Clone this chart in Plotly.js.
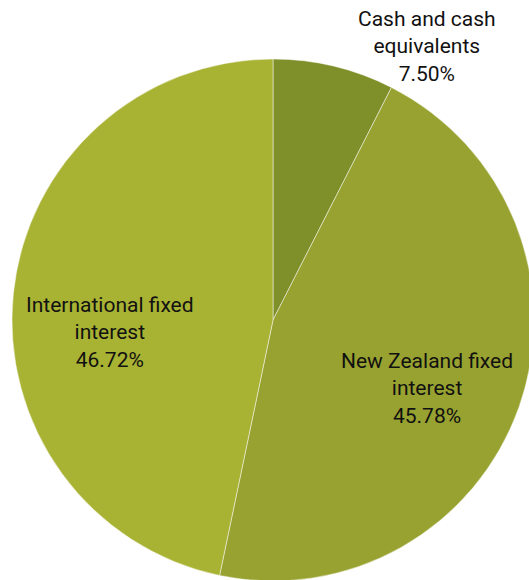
<!DOCTYPE html>
<html>
<head>
<meta charset="utf-8">
<script src="https://cdn.plot.ly/plotly-3.0.1.min.js"></script>
<style>
html,body{margin:0;padding:0;overflow:hidden;background:#fff;width:529px;height:580px;}
#chart{width:546px;height:581px;}
</style>
</head>
<body>
<div id="chart"></div>
<script>
const categories = ["Cash and cash<br>equivalents", "New Zealand fixed<br>interest", "International fixed<br>interest"];
const values = [7.50, 45.78, 46.72];
const percentLabels = ["7.50%", "45.78%", "46.72%"];
const colors = ["#7f8f2a", "#98a230", "#a8b233"];

// label anchor points (paper coordinates of the pie's plot area)
const labelX = [0.795, 0.795, 0.188];
const labelY = [1.023, 0.368, 0.477];

const trace = {
  type: "pie",
  labels: categories,
  values: values,
  sort: false,
  direction: "clockwise",
  rotation: 0,
  marker: {colors: colors, line: {color: "rgba(255,255,255,0.6)", width: 0.8}},
  textinfo: "none",
  automargin: false,
  hoverinfo: "none",
  showlegend: false
};

const annotations = categories.map((c, i) => ({
  xref: "paper", yref: "paper",
  x: labelX[i], y: labelY[i],
  xanchor: "center", yanchor: "middle",
  text: c + "<br>" + percentLabels[i],
  showarrow: false,
  align: "center",
  font: {family: "Roboto, sans-serif", size: 21, color: "#111111"}
}));

const layout = {
  width: 546,
  height: 581,
  margin: {l: 12, r: 12, t: 59, b: 0},
  paper_bgcolor: "#ffffff",
  plot_bgcolor: "#ffffff",
  showlegend: false,
  annotations: annotations
};

Plotly.newPlot("chart", [trace], layout, {staticPlot: true, displayModeBar: false});
</script>
</body>
</html>
